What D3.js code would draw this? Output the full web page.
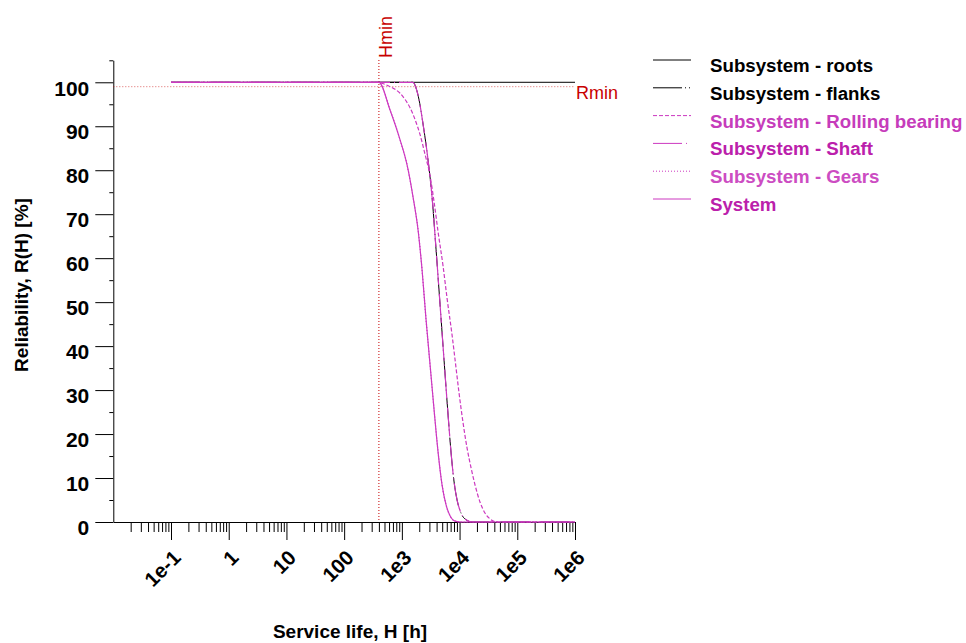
<!DOCTYPE html>
<html>
<head>
<meta charset="utf-8">
<script src="https://cdn.jsdelivr.net/npm/d3@7/dist/d3.min.js"></script>
<style>
  body { margin: 0; background: #fff; }
  svg { font-family: "Liberation Sans", Arial, sans-serif; }
</style>
</head>
<body>
<svg id="chart" width="966" height="643"></svg>
<script>
// limits
const hMin = 400;
const rMin = 99;

// reliability curves, hours -> R(H) in %
const rootsHours = [0.1, 1e6];
const rootsRel = [100, 100];

const flanksHours = [0.1, 1563, 1762, 1986, 2328, 2844, 3336, 3917, 4592, 5383, 6324, 7129, 8035, 9057, 10620, 12970, 16480, 1e6];
const flanksRel = [100, 100, 98.7, 96.0, 90.5, 82.3, 73.9, 61.9, 49.4, 36.8, 24.3, 15.7, 9.1, 5.0, 2.0, 0.5, 0, 0];

const bearingHours = [0.1, 400, 512, 624, 762, 931, 1136, 1386, 1694, 2067, 2523, 3083, 3616, 4241, 5176, 6067, 7413, 8690, 9795, 11510, 13490, 15820, 18560, 22650, 27690, 33800, 44670, 1e6];
const bearingRel = [100, 100, 99.5, 99.0, 98.4, 97.5, 96.1, 94.2, 91.5, 88.1, 83.6, 78.7, 72.8, 66.0, 58.2, 50.9, 42.5, 35.0, 29.3, 22.5, 16.8, 12.3, 8.4, 4.5, 2.0, 0.7, 0, 0];

// shaft lies on top of the flanks curve
const shaftHours = [0.1, 1563, 1762, 1986, 2328, 2844, 3336, 3917, 4592, 5383, 6324, 7129, 8035, 9057, 10620, 12970, 16480, 1e6];
const shaftRel = [100, 100, 98.7, 96.0, 90.5, 82.3, 73.9, 61.9, 49.4, 36.8, 24.3, 15.7, 9.1, 5.0, 2.0, 0.5, 0, 0];

// gears lies under the system curve
const gearsHours = [0.1, 400, 624, 931, 1231, 1563, 1909, 2240, 2629, 3083, 3616, 4241, 4977, 5834, 6839, 8356, 11040, 1e6];
const gearsRel = [100, 100, 93.7, 86.9, 81.2, 73.9, 66.4, 57.3, 45.9, 35.7, 25.5, 15.9, 8.4, 3.9, 1.4, 0.2, 0, 0];

const systemHours = [0.1, 400, 624, 931, 1231, 1563, 1909, 2240, 2629, 3083, 3616, 4241, 4977, 5834, 6839, 8356, 11040, 1e6];
const systemRel = [100, 100, 93.7, 86.9, 81.2, 73.9, 66.4, 57.3, 45.9, 35.7, 25.5, 15.9, 8.4, 3.9, 1.4, 0.2, 0, 0];

const seriesNames = ['Subsystem - roots', 'Subsystem - flanks', 'Subsystem - Rolling bearing', 'Subsystem - Shaft', 'Subsystem - Gears', 'System'];

// axis ticks
const xMajor = [1e-1, 1, 10, 100, 1e3, 1e4, 1e5, 1e6];
const xLabels = ['1e-1', '1', '10', '100', '1e3', '1e4', '1e5', '1e6'];
const yMajor = [0, 10, 20, 30, 40, 50, 60, 70, 80, 90, 100];

const magenta = '#cc38c0';
const red = '#c80000';

const svg = d3.select('#chart');

const x = d3.scaleLog().domain([1e-2, 1e6]).range([113.3, 575]);
const y = d3.scaleLinear().domain([0, 105]).range([522, 60.3]);

// x axis (minor + major ticks)
const xTicks = x.ticks().filter(d => d > 1.5e-2);
const xAxis = svg.append('g')
    .attr('transform', `translate(0,${y(0)})`)
    .call(d3.axisBottom(x).tickValues(xTicks).tickSize(10).tickSizeOuter(0).tickFormat(''));
xAxis.selectAll('.tick line')
    .attr('y2', d => xMajor.some(m => Math.abs(Math.log10(m) - Math.log10(d)) < 1e-6) ? 18 : 10);

xMajor.forEach((v, i) => {
    svg.append('text')
        .attr('transform', `translate(${x(v) + 11},559) rotate(-45)`)
        .attr('text-anchor', 'end')
        .attr('font-size', 20.5)
        .attr('font-weight', 'bold')
        .text(xLabels[i]);
});

// y axis
const yAxis = svg.append('g')
    .attr('transform', `translate(${x.range()[0]},0)`)
    .call(d3.axisLeft(y).tickValues(d3.range(0, 106, 5)).tickSize(4).tickSizeOuter(0)
        .tickFormat(d => yMajor.includes(d) ? d : ''));
yAxis.selectAll('.tick line')
    .attr('x2', d => yMajor.includes(d) ? -18 : -4);
yAxis.selectAll('.tick text')
    .attr('x', -24)
    .attr('y', 6)
    .attr('font-size', 21)
    .attr('font-weight', 'bold')
    .attr('font-family', '"Liberation Sans", Arial, sans-serif')
    .attr('fill', '#000');

// axis titles
svg.append('text')
    .attr('transform', 'translate(28,285) rotate(-90)')
    .attr('text-anchor', 'middle')
    .attr('font-size', 19)
    .attr('font-weight', 'bold')
    .text('Reliability, R(H) [%]');

svg.append('text')
    .attr('x', 350)
    .attr('y', 638)
    .attr('text-anchor', 'middle')
    .attr('font-size', 19)
    .attr('font-weight', 'bold')
    .text('Service life, H [h]');

// Hmin / Rmin markers
svg.append('line')
    .attr('x1', x(hMin)).attr('x2', x(hMin))
    .attr('y1', 60).attr('y2', y(0))
    .attr('stroke', red).attr('stroke-width', 1).attr('stroke-dasharray', '1,2');
svg.append('text')
    .attr('transform', `translate(${x(hMin) + 13},58) rotate(-90)`)
    .attr('font-size', 18)
    .attr('fill', red)
    .text('Hmin');

svg.append('line')
    .attr('x1', x.range()[0]).attr('x2', x.range()[1])
    .attr('y1', y(rMin)).attr('y2', y(rMin))
    .attr('stroke', red).attr('stroke-width', 1).attr('stroke-dasharray', '1,2').attr('opacity', 0.6);
svg.append('text')
    .attr('x', 576)
    .attr('y', 99)
    .attr('font-size', 18)
    .attr('fill', red)
    .text('Rmin');

// curves
const series = [
    { name: seriesNames[0], hours: rootsHours, rel: rootsRel, color: '#000', dash: null, width: 1, text: '#000' },
    { name: seriesNames[1], hours: flanksHours, rel: flanksRel, color: '#000', dash: '29,3,1,3,1,3', width: 1, text: '#000' },
    { name: seriesNames[2], hours: bearingHours, rel: bearingRel, color: magenta, dash: '4,2', width: 1.2, text: '#c63cbb' },
    { name: seriesNames[3], hours: shaftHours, rel: shaftRel, color: magenta, dash: '29,4,1,4', width: 1.2, text: '#bb20ab' },
    { name: seriesNames[4], hours: gearsHours, rel: gearsRel, color: magenta, dash: '1,2', width: 1.2, text: '#cc4cc2' },
    { name: seriesNames[5], hours: systemHours, rel: systemRel, color: magenta, dash: null, width: 1.2, text: '#bb20ab' }
];

const line = d3.line()
    .x(d => x(d[0]))
    .y(d => y(d[1]))
    .curve(d3.curveMonotoneX);

series.forEach(s => {
    svg.append('path')
        .datum(s.hours.map((h, i) => [h, s.rel[i]]))
        .attr('d', line)
        .attr('fill', 'none')
        .attr('stroke', s.color)
        .attr('stroke-width', s.width)
        .attr('stroke-dasharray', s.dash);
});

// legend
const legend = svg.append('g');
series.forEach((s, i) => {
    const ly = 60 + i * 27.8;
    legend.append('line')
        .attr('x1', 653).attr('x2', 691)
        .attr('y1', ly).attr('y2', ly)
        .attr('stroke', s.color)
        .attr('stroke-width', 1)
        .attr('stroke-dasharray', s.dash);
    legend.append('text')
        .attr('x', 710)
        .attr('y', ly + 12)
        .attr('font-size', 18.7)
        .attr('font-weight', 'bold')
        .attr('fill', s.text)
        .text(s.name);
});
</script>
</body>
</html>
